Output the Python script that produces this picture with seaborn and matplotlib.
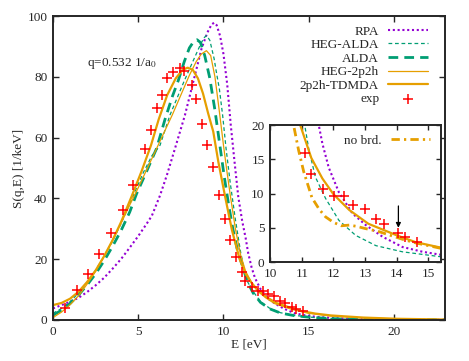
import matplotlib
matplotlib.use("Agg")
import matplotlib.pyplot as plt
import seaborn as sns

# experiment
e_exp = [0.70, 1.41, 2.05, 2.70, 3.40, 4.11, 4.69, 5.40, 5.75, 6.10, 6.39, 6.69, 7.04, 7.45,
         7.68, 8.15, 8.39, 8.74, 9.03, 9.38, 9.74, 10.09, 10.41, 10.73, 11.09, 11.29, 11.66,
         12.02, 12.33, 12.63, 12.98, 13.34, 13.60, 14.03, 14.27, 14.64]
s_exp = [3.9, 9.9, 15.1, 21.7, 28.6, 36.2, 44.4, 56.3, 62.5, 69.7, 74.0, 79.6, 81.6, 82.9,
         81.9, 77.3, 72.7, 64.5, 57.6, 50.3, 41.1, 33.2, 26.3, 20.7, 15.9, 12.9, 10.7,
         9.6, 9.6, 8.4, 7.8, 6.3, 5.5, 4.3, 3.7, 2.9]

# RPA
e_rpa = [0, 0.5, 1, 1.5, 2, 2.5, 3, 3.5, 4, 4.5, 5, 5.5, 5.8, 6.28, 6.7, 7.16, 7.74, 8.23,
         8.72, 9.05, 9.3, 9.45, 9.6, 9.8, 10.0, 10.22, 10.43, 10.65, 10.87, 11.1, 11.3,
         11.45, 11.65, 11.85, 12.17, 12.6, 13.02, 13.55, 14.18, 14.82, 15.35, 16.5, 18, 20, 23]
s_rpa = [3.8, 4.9, 6.0, 7.3, 9.2, 11.4, 13.9, 16.9, 20.1, 23.8, 27.6, 31.7, 34.3, 41.0,
         48.0, 56.5, 67.4, 78.4, 89.4, 94.5, 97.2, 97.8, 97.0, 93.5, 87.5, 77.5, 64.0,
         52.0, 40.5, 32.5, 27.0, 22.0, 17.3, 13.8, 10.2, 7.1, 5.4, 3.7, 2.2, 1.5, 1.1,
         0.6, 0.3, 0.12, 0.05]

# HEG-ALDA
e_hegalda = [0, 0.5, 1, 1.5, 2, 2.5, 3, 3.5, 4, 4.5, 4.83, 5.3, 5.8, 6.28, 6.86, 7.68,
             8.2, 8.6, 8.85, 9.01, 9.2, 9.45, 9.6, 9.76, 9.95, 10.15, 10.4, 10.7, 11.0,
             11.22, 11.43, 11.75, 12.17, 12.7, 13.34, 14.18, 15.35, 17, 20, 23]
s_hegalda = [2.2, 3.8, 6.0, 8.9, 12.4, 16.4, 20.9, 26.0, 31.8, 38.2, 42.5, 48.5, 54.0,
             57.5, 67.4, 78.4, 85.0, 90.0, 92.8, 93.6, 92.0, 86.0, 81.0, 76.0, 67.4, 56.5,
             45.0, 33.0, 22.5, 16.5, 12.4, 9.3, 6.1, 3.9, 2.4, 1.5, 0.8, 0.3, 0.1, 0.05]

# ALDA
e_alda = [0, 0.5, 1, 1.5, 2, 2.5, 3, 3.5, 4, 4.5, 4.9, 5.5, 6.08, 6.57, 7.0, 7.35, 7.7,
          8.0, 8.25, 8.45, 8.65, 8.9, 9.2, 9.5, 9.8, 10.05, 10.3, 10.55, 10.8, 11.07,
          11.3, 11.5, 11.75, 12.17, 12.7, 13.34, 14.18, 15.35, 17, 20, 23]
s_alda = [1.6, 3.2, 5.4, 8.2, 11.5, 15.2, 19.5, 24.3, 29.5, 35.5, 41.5, 49.0, 56.5, 66.0,
          73.5, 78.8, 85.0, 89.5, 91.6, 92.2, 91.3, 87.0, 79.5, 69.0, 57.0, 47.0, 38.0,
          30.0, 23.5, 18.5, 14.5, 11.5, 8.8, 5.8, 3.7, 2.3, 1.4, 0.75, 0.3, 0.1, 0.05]

# HEG-2p2h
e_heg2p2h = [0, 0.5, 1, 1.5, 2, 2.5, 3, 3.5, 4, 4.5, 5, 5.5, 6, 6.5, 7, 7.5, 8, 8.4, 8.7,
             9.0, 9.25, 9.5, 9.75, 10.0, 10.2, 10.4, 10.7, 11.0, 11.3, 11.7, 12.0, 12.5,
             13.0, 14.0, 15.0, 16.3, 18.2, 20.2, 23]
s_heg2p2h = [0.8, 2.6, 5.0, 8.0, 11.8, 16.0, 21.0, 26.3, 32.0, 37.8, 43.5, 49.5, 55.5,
             61.5, 67.5, 74.0, 80.5, 85.0, 87.5, 88.6, 87.0, 80.0, 69.0, 57.5, 49.0, 41.0,
             30.0, 21.5, 16.0, 11.8, 9.5, 7.2, 5.4, 3.5, 2.2, 1.3, 0.7, 0.35, 0.1]

# 2p2h-TDMDA
e_tdmda = [0.0, 0.5, 1.0, 1.5, 2.0, 2.5, 3.0, 3.5, 4.0, 4.6, 5.2, 5.75, 6.2, 6.7, 7.2, 7.6,
           7.9, 8.2, 8.5, 8.8, 9.1, 9.4, 9.7, 10.1, 10.5, 10.95, 11.3, 11.65, 12.0, 12.5,
           13.1, 14.0, 14.6, 15.4, 16.3, 18.2, 20.2, 23.0]
s_tdmda = [4.9, 5.6, 7.0, 9.3, 12.5, 16.3, 21.0, 26.3, 32.3, 40.5, 49.0, 57.5, 66.0, 74.0,
           79.5, 82.3, 83.0, 82.3, 79.5, 74.5, 68.0, 62.0, 52.0, 40.5, 29.5, 20.0, 15.2,
           12.2, 9.9, 7.6, 5.6, 3.9, 2.9, 2.1, 1.5, 0.8, 0.4, 0.15]

# no broadening (inset only)
e_nobrd = [10.55, 10.74, 10.9, 11.06, 11.32, 11.55, 11.75, 12.0, 12.25, 12.5, 12.75, 13.0,
           13.4, 13.8, 14.2, 14.6, 15.0, 15.5]
s_nobrd = [25.0, 20.0, 16.3, 13.2, 9.4, 7.7, 6.6, 5.8, 5.3, 5.4, 5.2, 4.9, 4.5, 3.9, 3.3,
           2.8, 2.4, 1.9]

purple = "#9400d3"
teal = "#009e73"
orange = "#e69f00"

sns.set_style("ticks")
plt.rcParams["font.family"] = ["Liberation Serif", "DejaVu Serif"]
plt.rcParams["mathtext.fontset"] = "stix"
plt.rcParams["font.size"] = 9.5

fig = plt.figure(figsize=(4.69, 3.61), dpi=100)
ax = fig.add_axes([0.113, 0.1136, 0.836, 0.842])


def draw_curves(a, with_labels=True):
    sns.lineplot(x=e_rpa, y=s_rpa, ax=a, color=purple, lw=1.5, ls=(0, (1, 1.3)),
                 label="RPA" if with_labels else None, sort=False, estimator=None)
    sns.lineplot(x=e_hegalda, y=s_hegalda, ax=a, color=teal, lw=0.9, ls=(0, (3, 2.2)),
                 label="HEG-ALDA" if with_labels else None, sort=False, estimator=None)
    if with_labels:
        sns.lineplot(x=e_alda, y=s_alda, ax=a, color=teal, lw=2.0, ls=(0, (3.5, 2.2)),
                     label="ALDA", sort=False, estimator=None)
        sns.lineplot(x=e_heg2p2h, y=s_heg2p2h, ax=a, color=orange, lw=0.9,
                     label="HEG-2p2h", sort=False, estimator=None)
    sns.lineplot(x=e_tdmda, y=s_tdmda, ax=a, color=orange, lw=1.6,
                 label="2p2h-TDMDA" if with_labels else None, sort=False, estimator=None)


draw_curves(ax)
sns.scatterplot(x=e_exp, y=s_exp, ax=ax, marker="+", color="red", s=42, linewidth=1.1,
                label="exp", zorder=5)

ax.set_xlim(0, 23)
ax.set_ylim(0, 100)
ax.set_xticks([0, 5, 10, 15, 20])
ax.set_yticks([0, 20, 40, 60, 80, 100])
ax.set_xlabel("E [eV]", labelpad=1)
ax.set_ylabel("S(q,E) [1/keV]", labelpad=2)
ax.tick_params(direction="in", top=True, right=True, length=4.5, width=1, pad=4)
for sp in ax.spines.values():
    sp.set_linewidth(1.4)
    sp.set_visible(True)

ax.text(0.087, 0.845, "q=0.532 1/a$_0$", transform=ax.transAxes, va="center", ha="left")

ax.legend(loc="upper right", bbox_to_anchor=(0.98, 1.0), markerfirst=False, frameon=False,
          handlelength=3.0, handletextpad=0.7, labelspacing=0.1, borderpad=0.2)

# inset
axi = fig.add_axes([0.576, 0.274, 0.3646, 0.3795])
axi.set_facecolor("white")
draw_curves(axi, with_labels=False)
sns.lineplot(x=e_nobrd, y=s_nobrd, ax=axi, color=orange, lw=2.0, ls=(0, (3, 1.5, 0.8, 1.5)),
             label="no brd.", sort=False, estimator=None)
sns.scatterplot(x=e_exp, y=s_exp, ax=axi, marker="+", color="red", s=42, linewidth=1.1,
                zorder=5, legend=False)
axi.annotate("", xy=(14.05, 4.6), xytext=(14.05, 8.6),
             arrowprops=dict(arrowstyle="-|>", color="black", lw=0.9, mutation_scale=7))
axi.set_xlim(10, 15.4)
axi.set_ylim(0, 20)
axi.set_xticks([10, 11, 12, 13, 14, 15])
axi.set_yticks([0, 5, 10, 15, 20])
axi.tick_params(direction="in", top=True, right=True, length=3.5, width=1, pad=4)
for sp in axi.spines.values():
    sp.set_linewidth(1.4)
    sp.set_visible(True)
axi.legend(handles=[axi.lines[-1]], labels=["no brd."], loc="upper right",
           bbox_to_anchor=(0.99, 1.0), markerfirst=False, frameon=False,
           handlelength=3.0, handletextpad=0.7, borderpad=0.2)

fig.savefig("out.png", dpi=100)
